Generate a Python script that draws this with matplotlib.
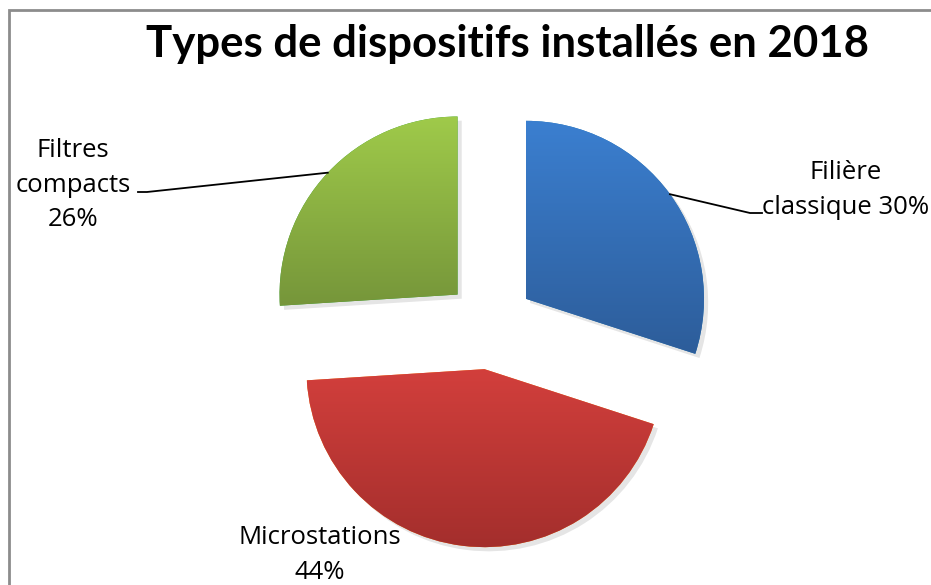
import numpy as np
import matplotlib
matplotlib.use("Agg")
import matplotlib.pyplot as plt
from matplotlib.patches import Shadow
from matplotlib.colors import LinearSegmentedColormap

# Données
categories = ["Filière\nclassique", "Microstations", "Filtres\ncompacts"]
parts = [30, 44, 26]
label_texts = ["Filière\nclassique 30%", "Microstations\n44%", "Filtres\ncompacts\n26%"]
title = "Types de dispositifs installés en 2018"

# couleurs (haut -> bas du dégradé)
col_top = ["#3b7fd0", "#d23f3c", "#9fca4a"]
col_bot = ["#2d5d9a", "#a32e2c", "#76963a"]

W, H = 931, 585
fig = plt.figure(figsize=(W / 100, H / 100), dpi=100)
ax = fig.add_axes([0, 0, 1, 1])

cx, cy, R = 490, H - 325, 178
wedges, _ = ax.pie(parts, startangle=90, counterclock=False, radius=R,
                   center=(cx, cy), explode=[0.25 * R] * 3,
                   wedgeprops=dict(linewidth=0))

for w, ct, cb in zip(wedges, col_top, col_bot):
    # ombre légère
    sh = Shadow(w, 3, -3, alpha=0.10, facecolor="#000000", zorder=0.5)
    ax.add_patch(sh)
    w.set_zorder(1)
    v = w.get_path().vertices
    x0, x1 = v[:, 0].min(), v[:, 0].max()
    y0, y1 = v[:, 1].min(), v[:, 1].max()
    cmap = LinearSegmentedColormap.from_list("g", [cb, ct])
    grad = np.linspace(1, 0, 100).reshape(-1, 1)
    im = ax.imshow(grad, cmap=cmap, extent=[x0, x1, y0, y1], aspect="auto",
                   zorder=2, interpolation="bicubic")
    im.set_clip_path(w)

lab_font = ["Open Sans", "DejaVu Sans"]
fs = 18.5
ls = 1.5

# étiquettes + lignes de rappel
def edge_point(w):
    ang = np.deg2rad((w.theta1 + w.theta2) / 2)
    return w.center[0] + w.r * np.cos(ang), w.center[1] + w.r * np.sin(ang)

# Filière classique
px, py = edge_point(wedges[0])
ax.plot([px, 750, 762], [py, H - 213, H - 213], color="black", lw=1.3, zorder=3)
ax.text(846, H - 190, label_texts[0], ha="center", va="center", fontsize=fs,
        family=lab_font, linespacing=ls, zorder=3)

# Microstations
ax.text(320, H - 555, label_texts[1], ha="center", va="center", fontsize=fs,
        family=lab_font, linespacing=ls, zorder=3)

# Filtres compacts
px, py = edge_point(wedges[2])
ax.plot([px, 147, 138], [py, H - 192, H - 192], color="black", lw=1.3, zorder=3)
ax.text(73, H - 185, label_texts[2], ha="center", va="center", fontsize=fs,
        family=lab_font, linespacing=ls, zorder=3)

ax.text(507, H - 44, title, ha="center", va="center", fontsize=31.5,
        fontweight="bold", family=["Lato", "DejaVu Sans"], zorder=3)

# cadre (gauche + haut, le reste est coupé)
ax.plot([9, 9, W + 5], [-5, H - 10, H - 10], color="#8c8c8c", lw=2,
        solid_joinstyle="miter", zorder=4)

ax.set_xlim(0, W)
ax.set_ylim(0, H)
ax.set_aspect("equal")
ax.axis("off")

fig.savefig("out.png", dpi=100)
